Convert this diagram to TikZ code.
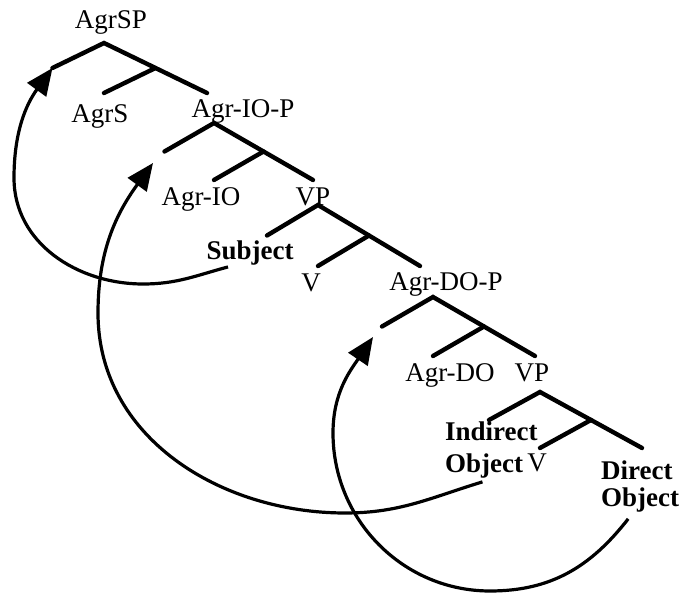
\documentclass[tikz,border=0pt]{standalone}
\usepackage{fontspec}
\setmainfont{Liberation Serif}
\usetikzlibrary{arrows.meta,calc}

\begin{document}
\begin{tikzpicture}[x=1pt,y=1pt,
    every node/.style={font=\fontsize{27}{32}\selectfont,inner sep=1pt},
    lbl/.style={anchor=base},
    phrase/.style={font=\fontsize{27}{32}\selectfont\bfseries,align=left,anchor=north west},
    branch/.style={line width=4.4pt,line cap=round},
    move/.style={line width=3.2pt,-{Triangle[length=27pt,width=23pt]}}]
  \useasboundingbox (0,0) rectangle (683,594);

  % each branching point: top of the tree and the end of its right arm
  \foreach \t/\ax/\ay/\dx/\dy in {sp/104/551/103/-50, iop/214/471/99/-57, vpa/318/389/102/-61, dop/433/297/102/-59, vpb/540/202/102/-56} {
    \coordinate (top\t) at (\ax,\ay);
    \coordinate (right\t) at ({\ax+(\dx)},{\ay+(\dy)});
    \coordinate (left\t) at ({\ax-0.5*(\dx)},{\ay+0.5*(\dy)});
    \coordinate (mid\t) at ({\ax+0.5*(\dx)},{\ay+0.5*(\dy)});
    \coordinate (sub\t) at (\ax,{\ay+(\dy)});
    \draw[branch] (left\t) -- (top\t) -- (right\t);
    \draw[branch] (mid\t) -- (sub\t);
  }

  \node[lbl] (agrsp) at (111,565) {AgrSP};
  \node[lbl] (agrs) at (100,471) {AgrS};
  \node[lbl] (agriop) at (243,476) {Agr-IO-P};
  \node[lbl] (agrio) at (201,388) {Agr-IO};
  \node[lbl] (vpa) at (313,388) {VP};
  \node[lbl,font=\fontsize{27}{32}\selectfont\bfseries] (subj) at (250,334) {Subject};
  \node[lbl] (va) at (311,302) {V};
  \node[lbl] (agrdop) at (446,303) {Agr-DO-P};
  \node[lbl] (agrdo) at (450,212) {Agr-DO};
  \node[lbl] (vpb) at (532,212) {VP};
  \node[phrase] (indobj) at (444,173) {Indirect\\Object};
  \node[lbl] (vb) at (537,122) {V};
  \node[phrase,font=\fontsize{27}{27}\selectfont\bfseries] (dirobj) at (600,134) {Direct\\Object};

  % landing spots of the moved phrases
  \coordinate (gapiop) at (153,431);
  \coordinate (gapdop) at (373,257);

  % turning points of the movement arcs
  \coordinate (lowsubj) at (143,310);
  \coordinate (farsubj) at (14,416);
  \coordinate (lowind) at (345,81);
  \coordinate (farind) at (98,281);
  \coordinate (lowdir) at (490,3);
  \coordinate (fardir) at (333,161);

  \draw[move] ([xshift=-22pt]subj.south) to[out=195,in=0] (lowsubj)
    to[out=180,in=270] (farsubj) to[out=90,in=234] (leftsp);
  \draw[move] ([xshift=-9pt,yshift=-2pt]indobj.south) to[out=197,in=0] (lowind)
    to[out=180,in=270] (farind) to[out=90,in=234] (gapiop);
  \draw[move] ([xshift=-12pt,yshift=-5pt]dirobj.south) to[out=232,in=0] (lowdir)
    to[out=180,in=270] (fardir) to[out=90,in=236] (gapdop);
\end{tikzpicture}
\end{document}
